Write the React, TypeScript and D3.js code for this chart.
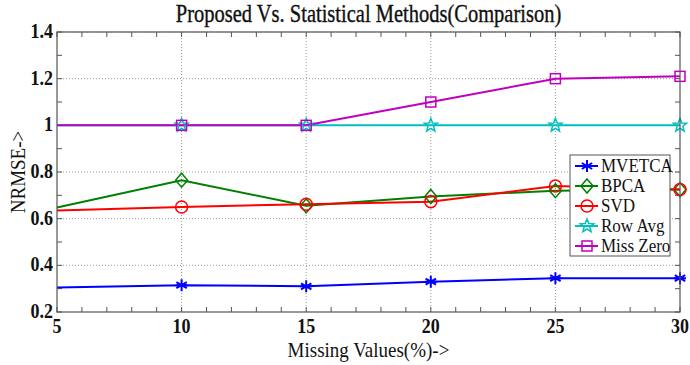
import React from "react";
import * as d3 from "d3";

const xValues = [5, 10, 15, 20, 25, 30];
const mvetca = [0.305, 0.315, 0.31, 0.33, 0.345, 0.345];
const bpca = [0.648, 0.765, 0.655, 0.695, 0.72, 0.725];
const svd = [0.635, 0.65, 0.662, 0.673, 0.74, 0.725];
const rowAvg = [1.0, 1.0, 1.0, 1.0, 1.0, 1.0];
const missZero = [1.0, 1.0, 1.0, 1.1, 1.2, 1.21];
const xTicks = [5, 10, 15, 20, 25, 30];
const yTicks = [0.2, 0.4, 0.6, 0.8, 1.0, 1.2, 1.4];

const series = [
  { name: "MVETCA", values: mvetca, color: "#0000ff", marker: "star6" },
  { name: "BPCA", values: bpca, color: "#008000", marker: "diamond" },
  { name: "SVD", values: svd, color: "#ff0000", marker: "circle" },
  { name: "Row Avg", values: rowAvg, color: "#00bfbf", marker: "pentagram" },
  { name: "Miss Zero", values: missZero, color: "#bf00bf", marker: "square" },
];

const W = 690, H = 365;
const L = 57, R = 680, T = 32, B = 312;
const FONT = "'Liberation Serif', 'Times New Roman', serif";

function Marker({ type, x, y, color }: { type: string; x: number; y: number; color: string }) {
  const s = 6;
  if (type === "circle") return <circle cx={x} cy={y} r={s} fill="none" stroke={color} strokeWidth={1.5} />;
  if (type === "square") return <rect x={x - 5} y={y - 5} width={10} height={10} fill="none" stroke={color} strokeWidth={1.5} />;
  if (type === "diamond") return <path d={`M${x},${y - 7}L${x + 6},${y}L${x},${y + 7}L${x - 6},${y}Z`} fill="none" stroke={color} strokeWidth={1.5} />;
  if (type === "star6") {
    const r = 6;
    const d = [0, 60, 120].map((a) => {
      const rad = (a * Math.PI) / 180;
      return `M${x - r * Math.sin(rad)},${y - r * Math.cos(rad)}L${x + r * Math.sin(rad)},${y + r * Math.cos(rad)}`;
    }).join("") + `M${x - r},${y}L${x + r},${y}`;
    return <path d={d} stroke={color} strokeWidth={2} fill="none" />;
  }
  const pts: string[] = [];
  for (let i = 0; i < 10; i++) {
    const rr = i % 2 === 0 ? 7 : 3;
    const a = (Math.PI / 5) * i - Math.PI / 2;
    pts.push(`${x + rr * Math.cos(a)},${y + rr * Math.sin(a)}`);
  }
  return <polygon points={pts.join(" ")} fill="none" stroke={color} strokeWidth={1.5} />;
}

export default function App() {
  const x = d3.scaleLinear().domain([5, 30]).range([L, R]);
  const y = d3.scaleLinear().domain([0.2, 1.4]).range([B, T]);
  const minorX = d3.range(5, 31, 1);
  const minorY = d3.range(0.2, 1.401, 0.1);
  const line = d3.line<number>().x((_, i) => x(xValues[i])).y((v) => y(v));

  const legX = 570, legY = 155, legW = 100, legH = 101;

  return (
    <svg width={W} height={H} style={{ position: "absolute", left: 0, top: 0, background: "#fff" }}>
      <rect x={0} y={0} width={W} height={H} fill="#fff" />
      {xTicks.slice(1, -1).map((t) => (
        <line key={"gx" + t} x1={x(t)} x2={x(t)} y1={T} y2={B} stroke="#999" strokeWidth={1} strokeDasharray="1,2" />
      ))}
      {yTicks.slice(1).map((t) => (
        <line key={"gy" + t} x1={L} x2={R} y1={y(t)} y2={y(t)} stroke="#999" strokeWidth={1} strokeDasharray="1,2" />
      ))}
      {minorX.map((t) => (
        <g key={"mx" + t}>
          <line x1={x(t)} x2={x(t)} y1={B} y2={B - 5} stroke="#555" />
          <line x1={x(t)} x2={x(t)} y1={T} y2={T + 5} stroke="#555" />
        </g>
      ))}
      {minorY.map((t, i) => (
        <g key={"my" + i}>
          <line x1={L} x2={L + 5} y1={y(t)} y2={y(t)} stroke="#555" />
          <line x1={R} x2={R - 5} y1={y(t)} y2={y(t)} stroke="#555" />
        </g>
      ))}
      <g>
        {series.map((s) => (
          <path key={s.name} d={line(s.values) || ""} fill="none" stroke={s.color} strokeWidth={2} />
        ))}
      </g>
      {series.map((s) =>
        s.values.map((v, i) =>
          i === 0 ? null : <Marker key={s.name + i} type={s.marker} x={x(xValues[i])} y={y(v)} color={s.color} />
        )
      )}
      <rect x={L} y={T} width={R - L} height={B - T} fill="none" stroke="#555" strokeWidth={1.2} />
      {xTicks.map((t) => (
        <text key={"xl" + t} transform={`translate(${x(t)},${B + 21}) scale(1,1.12)`} textAnchor="middle" fontFamily={FONT} fontSize={18} fontWeight="bold" fill="#111">
          {t}
        </text>
      ))}
      {yTicks.map((t) => (
        <text key={"yl" + t} transform={`translate(${L - 4},${y(t) + 6}) scale(1,1.12)`} textAnchor="end" fontFamily={FONT} fontSize={18} fontWeight="bold" fill="#111">
          {t === 1 ? "1" : d3.format(".1f")(t)}
        </text>
      ))}
      <text transform={`translate(${(L + R) / 2},22) scale(1,1.18)`} textAnchor="middle" fontFamily={FONT} fontSize={20.5} fill="#111" stroke="#111" strokeWidth={0.3}>
        Proposed Vs. Statistical Methods(Comparison)
      </text>
      <text transform={`translate(${(L + R) / 2},357) scale(1,1.15)`} textAnchor="middle" fontFamily={FONT} fontSize={19} fill="#111">
        Missing Values(%)-&gt;
      </text>
      <text transform={`translate(25,${(T + B) / 2}) rotate(-90) scale(1,1.15)`} textAnchor="middle" fontFamily={FONT} fontSize={19} fill="#111">
        NRMSE-&gt;
      </text>
      <rect x={legX} y={legY} width={legW} height={legH} fill="#fff" stroke="#555" strokeWidth={1} />
      {series.map((s, i) => {
        const cy = legY + 11 + i * 20;
        return (
          <g key={"lg" + s.name}>
            <line x1={legX + 5} x2={legX + 28} y1={cy} y2={cy} stroke={s.color} strokeWidth={2} />
            <Marker type={s.marker} x={legX + 17} y={cy} color={s.color} />
            <text transform={`translate(${legX + 31},${cy + 6}) scale(1,1.1)`} fontFamily={FONT} fontSize={17} fill="#111">
              {s.name}
            </text>
          </g>
        );
      })}
    </svg>
  );
}
